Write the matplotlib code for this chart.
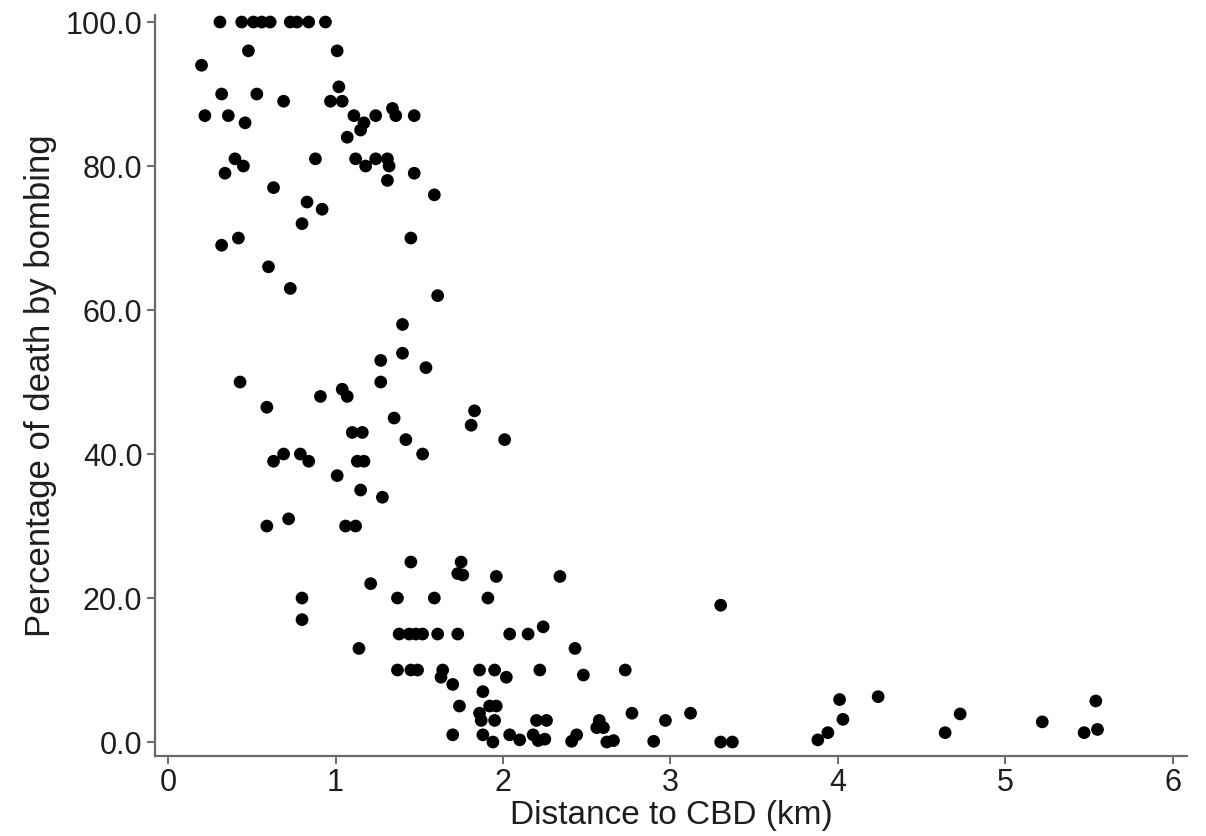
import numpy as np
import matplotlib
matplotlib.use('Agg')
import matplotlib.pyplot as plt

plt.rcParams['font.family'] = ['Liberation Sans', 'DejaVu Sans']

# distance to CBD (km) and share of deaths by bombing (%)
dist = [0.31, 0.44, 0.51, 0.56, 0.61, 0.73, 0.77, 0.84, 0.94,
        0.48, 1.01, 0.20, 1.02, 0.32, 0.53, 0.69, 0.97, 1.04,
        0.22, 0.36, 1.11, 1.24, 1.36, 1.47, 0.46, 1.17, 1.15, 1.34, 1.07,
        0.40, 0.88, 1.12, 1.24, 1.31, 0.45, 1.18, 1.32, 0.34, 1.47, 1.31,
        0.63, 1.59, 0.83, 0.92, 0.80, 0.42, 1.45, 0.32, 0.60, 0.73, 1.61,
        1.40, 1.40, 1.27, 1.54, 1.27, 0.43, 1.04, 1.07, 0.91, 0.59, 1.83,
        1.35, 1.81, 1.10, 1.16, 2.01, 1.42, 1.52, 0.69, 0.79,
        0.63, 0.84, 1.13, 1.17, 1.01, 1.15, 1.28, 0.59, 0.72, 1.06, 1.12,
        0.80, 0.80, 1.14, 1.21,
        1.45, 1.75, 1.73, 1.76, 1.96, 2.34, 1.37, 1.59, 1.91, 3.30,
        1.38, 1.44, 1.48, 1.52, 1.61, 1.73, 2.04, 2.15, 2.24, 2.43,
        1.37, 1.45, 1.49, 1.64, 1.86, 1.95, 2.22, 2.73, 1.63, 2.02, 2.48,
        1.70, 1.88, 1.74, 1.92, 1.96, 1.86, 2.77, 3.12,
        1.87, 1.95, 2.20, 2.26, 2.575, 2.97, 2.56, 2.60,
        1.70, 1.88, 2.04, 2.18, 2.44,
        1.94, 2.10, 2.21, 2.25, 2.41, 2.62, 2.66, 2.90, 3.30, 3.37,
        3.88, 3.94, 4.01, 4.03, 4.24, 4.64, 4.73, 5.22, 5.47, 5.54, 5.55]

pct = [100, 100, 100, 100, 100, 100, 100, 100, 100,
       96, 96, 94, 91, 90, 90, 89, 89, 89,
       87, 87, 87, 87, 87, 87, 86, 86, 85, 88, 84,
       81, 81, 81, 81, 81, 80, 80, 80, 79, 79, 78,
       77, 76, 75, 74, 72, 70, 70, 69, 66, 63, 62,
       58, 54, 53, 52, 50, 50, 49, 48, 48, 46.5, 46,
       45, 44, 43, 43, 42, 42, 40, 40, 40,
       39, 39, 39, 39, 37, 35, 34, 30, 31, 30, 30,
       20, 17, 13, 22,
       25, 25, 23.4, 23.2, 23, 23, 20, 20, 20, 19,
       15, 15, 15, 15, 15, 15, 15, 15, 16, 13,
       10, 10, 10, 10, 10, 10, 10, 10, 9, 9, 9.3,
       8, 7, 5, 5, 5, 4, 4, 4,
       3, 3, 3, 3, 3, 3, 2, 2,
       1, 1, 1, 1, 1,
       0, 0.3, 0.2, 0.4, 0.1, 0, 0.2, 0.1, 0, 0,
       0.3, 1.3, 5.9, 3.15, 6.3, 1.3, 3.9, 2.8, 1.3, 5.7, 1.75]

x_ticks = [0, 1, 2, 3, 4, 5, 6]
y_ticks = [0, 20, 40, 60, 80, 100]

text_col = '#1e1e1e'
axis_col = '#6a6a6a'

fig = plt.figure(figsize=(12.06, 8.36), dpi=100)
ax = fig.add_axes([0.1285, 0.0957, 0.8557, 0.8863])

ax.scatter(dist, pct, s=84, color='black', edgecolors='none', zorder=3)

ax.set_xlim(-0.078, 6.084)
ax.set_ylim(-1.94, 100.97)
ax.set_xticks(x_ticks)
ax.set_yticks(y_ticks)
ax.set_yticklabels(['%.1f' % v for v in y_ticks])

for side in ['top', 'right']:
    ax.spines[side].set_visible(False)
for side in ['left', 'bottom']:
    ax.spines[side].set_color(axis_col)
    ax.spines[side].set_linewidth(1.6)

ax.tick_params(axis='both', length=6, width=1.4, color=axis_col,
               labelsize=22, labelcolor=text_col, pad=3)

ax.set_xlabel('Distance to CBD (km)', fontsize=24, color=text_col, labelpad=1)
ax.set_ylabel('Percentage of death by bombing', fontsize=25, color=text_col, labelpad=6)

fig.savefig('out.png', dpi=100)
